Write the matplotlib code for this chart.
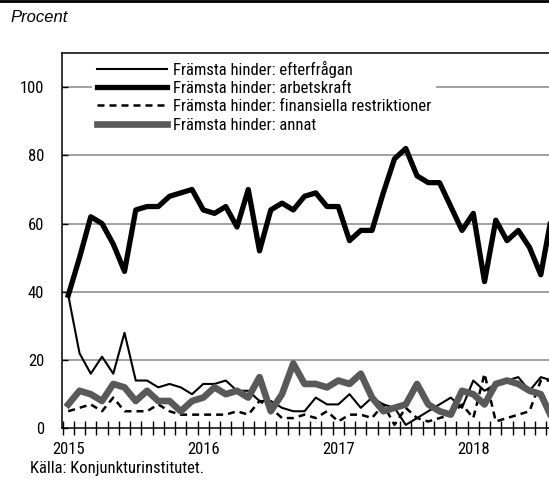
import matplotlib
matplotlib.use("Agg")
import matplotlib.pyplot as plt
from matplotlib.lines import Line2D

plt.rcParams['font.family'] = ['Roboto Condensed', 'DejaVu Sans']

years = ["2015", "2016", "2017", "2018"]
year_pos = [0, 12, 24, 36]

efterfragan = [39, 22, 16, 21, 16, 28, 14, 14, 12, 13,
               12, 10, 13, 13, 14, 11, 11, 8, 8, 6,
               5, 5, 9, 7, 7, 10, 6, 9, 7, 6,
               1, 3, 5, 7, 9, 6, 14, 11, 13, 14,
               15, 11, 15, 14]
arbetskraft = [39, 50, 62, 60, 54, 46, 64, 65, 65, 68,
               69, 70, 64, 63, 65, 59, 70, 52, 64, 66,
               64, 68, 69, 65, 65, 55, 58, 58, 69, 79,
               82, 74, 72, 72, 65, 58, 63, 43, 61, 55,
               58, 53, 45, 63]
finansiella = [5, 6, 7, 5, 9, 5, 5, 5, 7, 5,
               4, 4, 4, 4, 4, 5, 4, 8, 6, 3,
               3, 4, 3, 5, 2, 4, 4, 3, 7, 1,
               6, 3, 2, 3, 4, 7, 3, 16, 2, 3,
               4, 5, 14, 14]
annat = [7, 11, 10, 8, 13, 12, 8, 11, 8, 8,
         5, 8, 9, 12, 10, 11, 9, 15, 5, 10,
         19, 13, 13, 12, 14, 13, 16, 9, 5, 6,
         7, 13, 7, 5, 4, 11, 10, 7, 13, 14,
         13, 11, 10, 3]
labels = ["Främsta hinder: efterfrågan",
          "Främsta hinder: arbetskraft",
          "Främsta hinder: finansiella restriktioner",
          "Främsta hinder: annat"]

W, H = 549, 482
fig = plt.figure(figsize=(W / 100, H / 100), dpi=100)
left, right, top, bottom = 62.3, 549, 53, 428.3
ax = fig.add_axes([left / W, (H - bottom) / H, (right - left) / W, (bottom - top) / H])

x = list(range(len(arbetskraft)))
ax.plot(x, efterfragan, color='black', lw=1.5, label=labels[0], zorder=3)
ax.plot(x, arbetskraft, color='black', lw=3.8, label=labels[1], zorder=3)
ax.plot(x, finansiella, color='black', lw=1.8, linestyle=(0, (2.8, 2.0)), label=labels[2], zorder=3)
ax.plot(x, annat, color='#595959', lw=4.8, label=labels[3], zorder=3)

ax.set_xlim(-0.53, 42.73)
ax.set_ylim(0, 110)

ax.set_yticks([0, 20, 40, 60, 80, 100])
ax.set_yticklabels(["0", "20", "40", "60", "80", "100"])
ax.tick_params(axis='y', direction='in', length=4, width=1, pad=13, labelsize=12)
for v in [20, 40, 60, 80, 100]:
    ax.axhline(v, color='#999999', lw=1.3, zorder=1)

ax.set_xticks([i - 0.5 for i in range(0, 44)])
ax.set_xticklabels([])
ax.tick_params(axis='x', which='major', direction='inout', length=10, width=1)
ax.set_xticks(year_pos, minor=True)
ax.set_xticklabels(years, minor=True)
ax.tick_params(axis='x', which='minor', length=0, pad=10, labelsize=12)

for s in ['left', 'bottom', 'top']:
    ax.spines[s].set_linewidth(1.1)
    ax.spines[s].set_color('black')
ax.spines['right'].set_visible(False)

leg = ax.legend(loc='upper left', bbox_to_anchor=(0.061, 0.993), fontsize=12,
                handlelength=4.2, handletextpad=0.36, labelspacing=0.2,
                borderpad=0.3, borderaxespad=0, frameon=True, fancybox=False)
leg.get_frame().set_edgecolor('none')
leg.get_frame().set_facecolor('white')
leg.get_frame().set_alpha(1)
leg.set_zorder(2)

fig.text(10 / W, 1 - 18 / H, "Procent", family=['Liberation Sans', 'DejaVu Sans'],
         style='italic', fontsize=12, va='center', ha='left')
fig.text(30 / W, 1 - 468 / H, "Källa: Konjunkturinstitutet.", fontsize=12,
         va='center', ha='left')
fig.add_artist(Line2D([0, 1], [1 - 1 / H, 1 - 1 / H], transform=fig.transFigure,
                      color='black', lw=2))

fig.savefig("out.png", dpi=100)
